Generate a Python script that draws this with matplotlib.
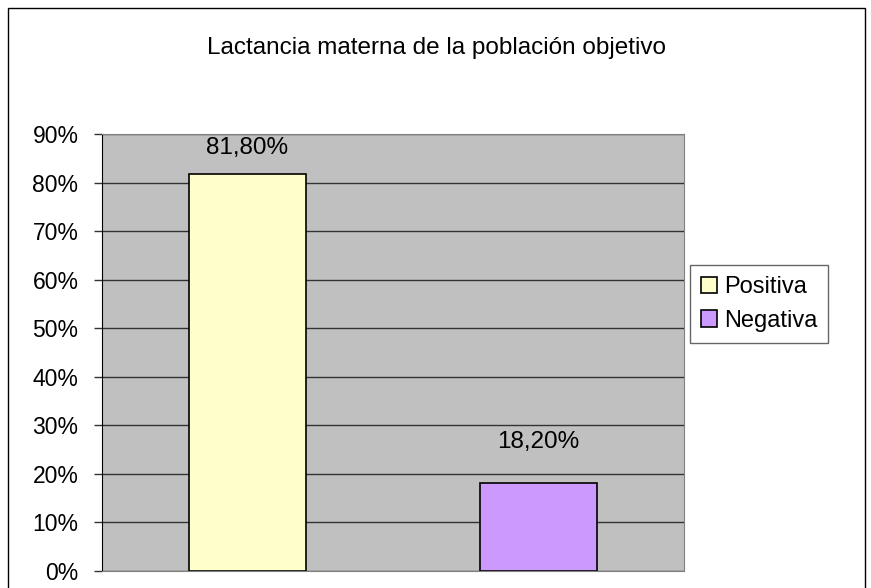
import matplotlib.pyplot as plt
from matplotlib.patches import Rectangle
from matplotlib.ticker import FuncFormatter

plt.rcParams["font.family"] = ["Liberation Sans", "DejaVu Sans"]

categories = ["Positiva", "Negativa"]
values = [81.8, 18.2]
labels = ["81,80%", "18,20%"]
colors = ["#FFFFCC", "#CC99FF"]
yticks = [0, 10, 20, 30, 40, 50, 60, 70, 80, 90]

W, H = 871, 588
fig = plt.figure(figsize=(W / 100, H / 100), dpi=100)
fig.patches.append(Rectangle((8 / W, -0.01), (865 - 8) / W, (H - 8) / H + 0.01,
                             transform=fig.transFigure, fill=False,
                             edgecolor="black", linewidth=1))

ax = fig.add_axes([102 / W, (H - 571) / H, (684 - 102) / W, (571 - 134) / H])
ax.set_facecolor("#C0C0C0")
ax.set_xlim(-0.5, 1.5)
ax.set_ylim(0, 90)
ax.set_yticks(yticks)
ax.yaxis.set_major_formatter(FuncFormatter(lambda v, p: f"{v:.0f}%"))
ax.grid(axis="y", color="#333333", linewidth=1)
ax.set_axisbelow(True)
ax.set_xticks([])
ax.tick_params(axis="y", labelsize=16.5, length=6, width=1, color="#333333", pad=11)

for s in ["top", "right"]:
    ax.spines[s].set_color("#808080")
ax.spines["bottom"].set_color("#808080")
ax.spines["left"].set_color("black")

handles = []
for i, (cat, v, lab, c) in enumerate(zip(categories, values, labels, colors)):
    b = ax.bar(i, v, width=0.405, color=c, edgecolor="black", linewidth=1.2, label=cat)
    handles.append(b)
    # label sits above the bar, pushed down to stay inside the plot area
    ax.text(i, min(v + 8.4, 87.1), lab, ha="center", va="center", fontsize=17.5)

leg = fig.legend(handles=handles, loc="center left",
                 bbox_to_anchor=(690 / W, 1 - 304 / H), fontsize=17,
                 frameon=True, fancybox=False, edgecolor="#404040",
                 handlelength=0.7, handleheight=0.7, handletextpad=0.3,
                 borderpad=0.45, labelspacing=0.5, borderaxespad=0)
leg.get_frame().set_linewidth(1)

fig.text(436 / W, 1 - 48 / H, "Lactancia materna de la población objetivo",
         ha="center", va="center", fontsize=17.5)

fig.savefig("out.png", dpi=100)
